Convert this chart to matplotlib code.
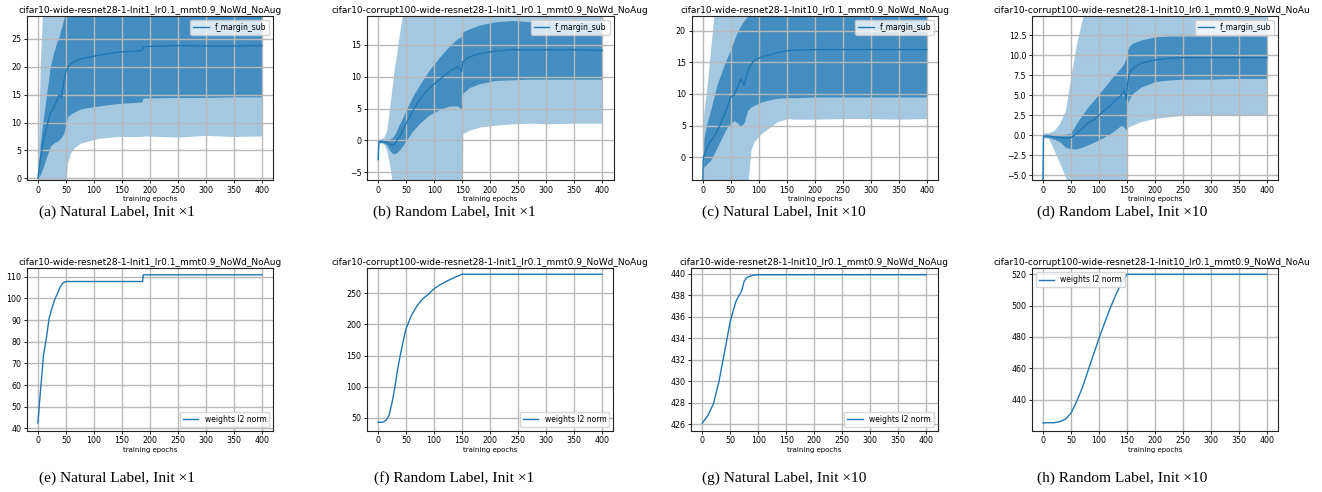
import matplotlib
matplotlib.use("Agg")
import matplotlib.pyplot as plt
from matplotlib.transforms import Bbox
import numpy as np

W, H = 1322, 492
C0 = "#1f77b4"

# ---------------- data: top row (f_margin_sub, mean with two bands) ----------------
a_epochs = [0, 4, 10, 16, 22, 28, 34, 38, 42, 46, 50, 53, 58, 65, 76, 90, 111, 141, 186, 188, 250, 300, 350, 400]
a_mean = [0, 3.3, 6.9, 9.3, 11.7, 12.6, 14.0, 15.0, 14.4, 17.3, 19.2, 19.8, 20.5, 20.9, 21.4, 21.7, 22.1, 22.6, 22.9, 23.6, 23.8, 23.7, 23.7, 23.8]
a_inner_lo = [0, 0.6, 2.1, 4.0, 5.7, 6.3, 6.6, 6.9, 7.4, 8.0, 9.5, 11.0, 11.5, 11.9, 12.4, 12.7, 13.0, 13.4, 13.7, 14.4, 14.5, 14.5, 14.6, 14.6]
a_inner_hi = [0, 6, 11, 15.5, 20, 22.5, 24.5, 25.5, 27, 28.5, 30, 31.5, 32, 32.5, 33, 33, 33, 33, 33, 33, 33, 33, 33, 33]
a_outer_lo = [0, -2, -3, -3, -3, -3, -3, -3, -3, -3, -0.5, 2.7, 4.5, 5.5, 6.3, 6.7, 7.2, 7.5, 7.5, 7.6, 7.4, 7.7, 7.5, 7.6]
a_outer_hi = [0, 20, 34, 36, 36, 36, 36, 36, 36, 36, 36, 36, 36, 36, 36, 36, 36, 36, 36, 36, 36, 36, 36, 36]

b_epochs = [0, 1, 5, 10, 15, 20, 25, 29, 32, 38, 44, 50, 61, 73, 91, 109, 127, 142, 149, 151, 163, 181, 210, 240, 270, 300, 350, 400]
b_mean = [-3, -0.2, -0.1, -0.2, -0.3, -0.6, -0.8, -0.6, -0.2, 0.6, 1.6, 2.7, 4.5, 6.3, 8.2, 9.5, 10.8, 11.6, 10.8, 12.3, 13.1, 13.6, 14.0, 14.2, 14.2, 14.2, 14.2, 14.1]
b_inner_lo = [-3, -0.4, -0.3, -0.4, -0.7, -1.5, -2.0, -2.1, -2.0, -1.5, -0.8, 0, 1.4, 2.6, 4.0, 4.8, 5.4, 5.4, 4.8, 7.4, 8.3, 8.9, 9.4, 9.5, 9.6, 9.6, 9.6, 9.6]
b_inner_hi = [-3, 0, 0.1, 0, 0, 0.2, 0.4, 0.9, 1.4, 2.6, 3.6, 4.8, 6.8, 8.6, 11, 13, 14.8, 16.0, 16.3, 17.0, 17.5, 18.1, 18.6, 18.8, 18.6, 18.6, 18.5, 18.5]
b_outer_lo = [-3, -0.5, -0.4, -0.6, -1.5, -3.6, -6.5, -8, -8, -8, -8, -8, -8, -8, -8, -8, -8, -8, -8, 1.1, 1.6, 2.1, 2.4, 2.6, 2.7, 2.6, 2.7, 2.7]
b_outer_hi = [-3, 0.2, 0.3, 0.5, 1.5, 4.8, 8.5, 11.5, 13, 16.8, 20, 22, 22, 22, 22, 22, 22, 22, 22, 22, 22, 22, 22, 22, 22, 22, 22, 22]

c_epochs = [0, 1, 2, 8, 14, 20, 26, 32, 38, 44, 50, 56, 62, 68, 74, 80, 86, 92, 104, 121, 133, 151, 163, 200, 250, 300, 350, 400]
c_mean = [-4.5, -0.5, 0.2, 1.6, 2.5, 3.2, 4.2, 5.3, 6.6, 7.9, 9.5, 9.8, 11.0, 12.4, 11.4, 13.5, 14.6, 15.3, 15.8, 16.2, 16.5, 16.8, 16.9, 17.0, 17.0, 17.0, 17.0, 17.0]
c_inner_lo = [-4.5, -2, -1.6, -1.0, -0.5, 0.5, 1.6, 2.7, 3.8, 4.8, 5.3, 5.8, 5.4, 4.8, 5.5, 7.4, 7.9, 8.2, 8.7, 9.1, 9.3, 9.4, 9.4, 9.5, 9.5, 9.5, 9.5, 9.5]
c_inner_hi = [-4.5, 1.5, 3, 5.5, 7.4, 9.5, 11.6, 13, 14.5, 15.8, 17, 18.5, 19.8, 20.8, 21.6, 22.2, 23, 24, 24, 24, 24, 24, 24, 24, 24, 24, 24, 24]
c_outer_lo = [-4.5, -6, -6, -6, -6, -6, -6, -6, -6, -6, -6, -6, -6, -6, -6, -5, 1.1, 2.5, 3.7, 4.8, 5.6, 6.1, 6.0, 6.0, 6.1, 6.1, 6.0, 6.1]
c_outer_hi = [-4.5, 5, 7, 11.6, 16.9, 22.5, 26, 26, 26, 26, 26, 26, 26, 26, 26, 26, 26, 26, 26, 26, 26, 26, 26, 26, 26, 26, 26, 26]

d_epochs = [0, 1, 10, 20, 30, 40, 50, 60, 70, 80, 90, 100, 110, 120, 130, 140, 145, 149, 151, 155, 160, 175, 200, 225, 250, 300, 350, 400]
d_mean = [-6, -0.1, -0.1, -0.2, -0.3, -0.4, -0.3, 0.2, 0.8, 1.5, 1.9, 2.5, 3.1, 3.7, 4.4, 5.0, 5.6, 4.4, 6.5, 7.9, 8.3, 9.0, 9.4, 9.6, 9.7, 9.7, 9.7, 9.7]
d_inner_lo = [-6, -0.2, -0.3, -0.5, -0.8, -1.5, -1.7, -1.7, -1.5, -1.2, -0.9, -0.6, -0.2, 0.2, 0.7, 1.25, 1.0, 0.6, 4.0, 4.6, 5.2, 6.0, 6.7, 6.9, 7.0, 7.0, 7.1, 7.1]
d_inner_hi = [-6, 0.1, 0.1, 0.1, 0.1, 0.1, 0.3, 1.5, 2.5, 3.5, 4.3, 5.2, 6.0, 6.9, 7.7, 8.5, 9.0, 9.8, 10.7, 11.2, 11.5, 11.9, 12.3, 12.4, 12.4, 12.4, 12.4, 12.4]
d_outer_lo = [-6, -0.3, -0.4, -1.9, -3.5, -5.2, -7, -7, -7, -7, -7, -7, -7, -7, -7, -7, -7, -7, 1.0, 1.1, 1.25, 1.7, 2.1, 2.3, 2.5, 2.6, 2.5, 2.6]
d_outer_hi = [-6, 0.3, 0.3, 0.6, 1.5, 3.1, 7.3, 11.5, 14.4, 17, 17, 17, 17, 17, 17, 17, 17, 17, 17, 17, 17, 17, 17, 17, 17, 17, 17, 17]

# ---------------- data: bottom row (weights l2 norm) ----------------
e_epochs = [0, 3, 6, 10, 15, 20, 25, 30, 35, 40, 45, 50, 187, 188, 400]
e_norm = [42.5, 52.3, 61.5, 73.8, 81.5, 90.8, 95.4, 99.5, 102.3, 105.4, 107.2, 107.8, 107.8, 110.9, 110.9]

f_epochs = [0, 10, 15, 20, 25, 30, 35, 40, 45, 50, 60, 70, 80, 90, 100, 110, 120, 130, 140, 150, 400]
f_norm = [43, 43.5, 46.8, 54.8, 73.5, 97.6, 127, 151, 172.5, 192.8, 215, 230, 241, 248.4, 257, 263, 268, 272.5, 276.5, 280.5, 280.5]

g_epochs = [0, 10, 20, 30, 40, 50, 60, 65, 70, 75, 80, 90, 100, 400]
g_norm = [426.1, 426.8, 427.9, 430.0, 432.75, 435.55, 437.4, 437.9, 438.35, 439.3, 439.65, 439.85, 439.9, 439.9]

h_epochs = [0, 20, 30, 40, 50, 60, 70, 80, 90, 100, 110, 120, 130, 140, 150, 400]
h_norm = [425.2, 425.3, 426.0, 427.5, 431.3, 438.7, 447.2, 457.9, 468.5, 479.0, 488.7, 498.3, 506.8, 514.3, 520.0, 520.0]

titles = [
    "cifar10-wide-resnet28-1-Init1_lr0.1_mmt0.9_NoWd_NoAug",
    "cifar10-corrupt100-wide-resnet28-1-Init1_lr0.1_mmt0.9_NoWd_NoAug",
    "cifar10-wide-resnet28-1-Init10_lr0.1_mmt0.9_NoWd_NoAug",
    "cifar10-corrupt100-wide-resnet28-1-Init10_lr0.1_mmt0.9_NoWd_NoAug",
]
captions_top = ["(a) Natural Label, Init \u00d71", "(b) Random Label, Init \u00d71",
                "(c) Natural Label, Init \u00d710", "(d) Random Label, Init \u00d710"]
captions_bot = ["(e) Natural Label, Init \u00d71", "(f) Random Label, Init \u00d71",
                "(g) Natural Label, Init \u00d710", "(h) Random Label, Init \u00d710"]
xticks = [0, 50, 100, 150, 200, 250, 300, 350, 400]

# ---------------- layout ----------------
fig = plt.figure(figsize=(W / 100, H / 100), dpi=100)
lefts_top = [26.7, 367.0, 691.5, 1031.7]
lefts_bot = [26.7, 366.7, 691.0, 1031.7]
axw = 246.5
top_row = (16, 180)
bot_row = (268.3, 430.7)
cap_x = [117, 454, 784, 1122]

TICK_FS = 5.7
TITLE_FS = 6.45
LAB_FS = 5.0
LEG_FS = 5.5


def make_ax(left, row):
    t, b = row
    return fig.add_axes([left / W, 1 - b / H, axw / W, (b - t) / H])


def style(ax, title, ylim, yticks, yfmt=None):
    ax.set_xlim(-20, 420)
    ax.set_ylim(*ylim)
    ax.set_xticks(xticks)
    ax.set_yticks(yticks)
    if yfmt:
        ax.set_yticklabels([yfmt.format(v).replace("-", "\u2212") for v in yticks])
    ax.tick_params(labelsize=TICK_FS, length=2.5, width=0.6, pad=1.5)
    ax.grid(True, color="#b8b8b8", linewidth=1.0)
    for s in ax.spines.values():
        s.set_linewidth(0.8)
        s.set_color("#222222")
    ax.set_xlabel("training epochs", fontsize=LAB_FS, labelpad=1)
    tt = ax.set_title(title, fontsize=TITLE_FS, pad=2.5)
    tt.set_clip_box(Bbox.from_extents(0, 0, 1309, H))
    tt.set_clip_on(True)


top_data = [
    (a_epochs, a_mean, a_inner_lo, a_inner_hi, a_outer_lo, a_outer_hi, (-0.3, 29.1), [0, 5, 10, 15, 20, 25], None),
    (b_epochs, b_mean, b_inner_lo, b_inner_hi, b_outer_lo, b_outer_hi, (-6.2, 19.5), [-5, 0, 5, 10, 15], None),
    (c_epochs, c_mean, c_inner_lo, c_inner_hi, c_outer_lo, c_outer_hi, (-3.6, 22.3), [0, 5, 10, 15, 20], None),
    (d_epochs, d_mean, d_inner_lo, d_inner_hi, d_outer_lo, d_outer_hi, (-5.6, 14.9),
     [-5.0, -2.5, 0.0, 2.5, 5.0, 7.5, 10.0, 12.5], "{:.1f}"),
]

for i, (ep, mean, ilo, ihi, olo, ohi, ylim, yt, fmt) in enumerate(top_data):
    ax = make_ax(lefts_top[i], top_row)
    ax.fill_between(ep, olo, ohi, color=C0, alpha=0.4, linewidth=0)
    ax.fill_between(ep, ilo, ihi, color=C0, alpha=0.72, linewidth=0)
    ax.plot(ep, mean, color=C0, linewidth=1.0, label="f_margin_sub")
    style(ax, titles[i], ylim, yt, fmt)
    ax.legend(loc="upper right", fontsize=LEG_FS, handlelength=2.0, borderpad=0.4,
              framealpha=0.8, fancybox=True)

bot_data = [
    (e_epochs, e_norm, (38.9, 113.9), [40, 50, 60, 70, 80, 90, 100, 110], "lower right"),
    (f_epochs, f_norm, (29.6, 290.0), [50, 100, 150, 200, 250], "lower right"),
    (g_epochs, g_norm, (425.4, 440.5), [426, 428, 430, 432, 434, 436, 438, 440], "lower right"),
    (h_epochs, h_norm, (420.2, 523.8), [440, 460, 480, 500, 520], "upper left"),
]

for i, (ep, vals, ylim, yt, loc) in enumerate(bot_data):
    ax = make_ax(lefts_bot[i], bot_row)
    ax.plot(ep, vals, color=C0, linewidth=1.0, label="weights l2 norm")
    style(ax, titles[i], ylim, yt)
    ax.legend(loc=loc, fontsize=LEG_FS, handlelength=2.0, borderpad=0.4,
              framealpha=0.8, fancybox=True)

for i in range(4):
    fig.text(cap_x[i] / W, 1 - 212 / H, captions_top[i], ha="center", va="center",
             fontsize=11.1, family=["Liberation Serif", "DejaVu Serif"])
    fig.text(cap_x[i] / W, 1 - 478 / H, captions_bot[i], ha="center", va="center",
             fontsize=11.1, family=["Liberation Serif", "DejaVu Serif"])

fig.savefig("out.png", dpi=100)
